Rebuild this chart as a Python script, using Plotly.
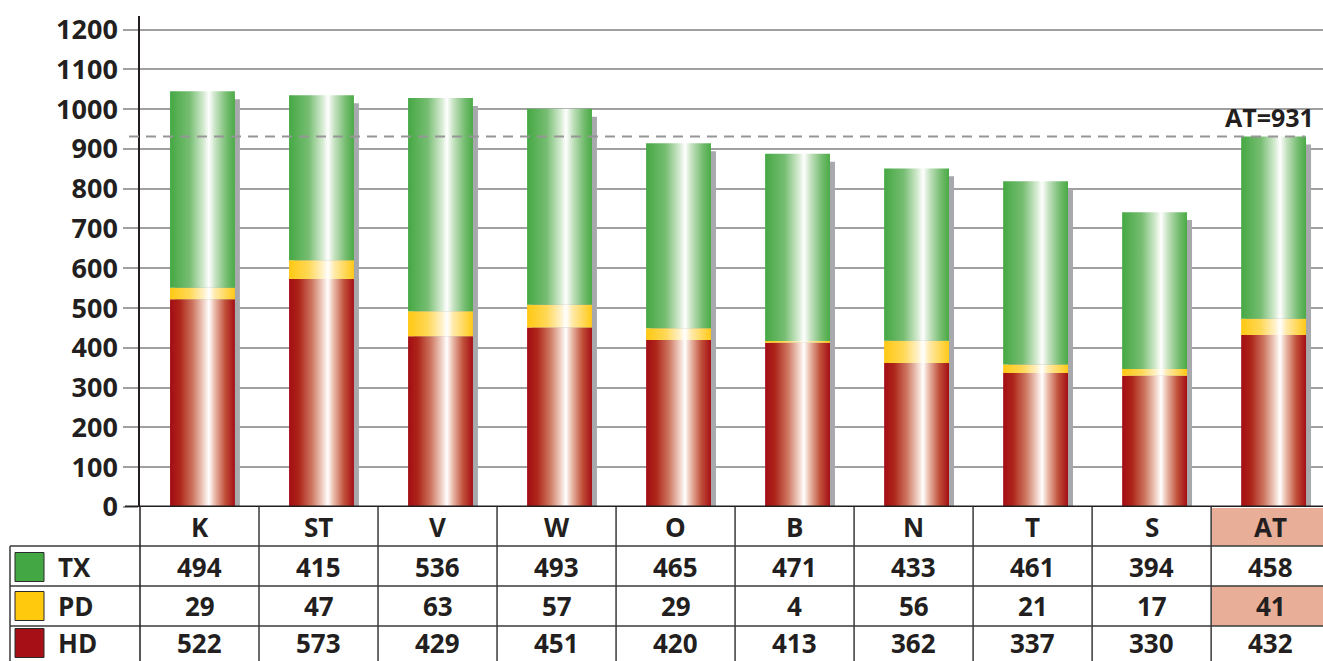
import plotly.graph_objects as go

# === DATOS ===
categories = ['K', 'ST', 'V', 'W', 'O', 'B', 'N', 'T', 'S', 'AT']
hd = [522, 573, 429, 451, 420, 413, 362, 337, 330, 432]
pd_vals = [29, 47, 63, 57, 29, 4, 56, 21, 17, 41]
tx = [494, 415, 536, 493, 465, 471, 433, 461, 394, 458]
at_value = 931
y_ticks = list(range(0, 1300, 100))

# colores
red_scale = [[0, '#a30d14'], [0.15, '#ad2419'], [0.35, '#cd7660'], [0.52, '#f0d2c6'],
             [0.6, '#ffffff'], [0.68, '#ecc0b0'], [0.85, '#c0503a'], [1, '#a50e14']]
yellow_scale = [[0, '#ffc812'], [0.3, '#ffd856'], [0.52, '#fff1c8'],
                [0.6, '#ffffff'], [0.7, '#ffe9a8'], [1, '#ffc915']]
green_scale = [[0, '#45a843'], [0.3, '#76bd72'], [0.52, '#d6ebd2'],
               [0.6, '#ffffff'], [0.7, '#c5e2c1'], [0.88, '#72bb6d'], [1, '#4aab45']]
series = [('HD', hd, red_scale, '#a50f15'),
          ('PD', pd_vals, yellow_scale, '#ffc90e'),
          ('TX', tx, green_scale, '#43a843')]

FONT = 'Open Sans'
TXT = '#231f20'
bar_w = 0.545
shift = 0.025
totals = [h + p + t for h, p, t in zip(hd, pd_vals, tx)]

fig = go.Figure()

# sombras grises
fig.add_trace(go.Bar(
    x=[i + shift + 0.042 for i in range(len(categories))],
    y=[t - 20 for t in totals],
    width=bar_w, marker=dict(color='#a7a9ac', line=dict(width=0)),
    hoverinfo='skip', showlegend=False
))

# barras apiladas con degradado horizontal
for i in range(len(categories)):
    base = 0
    for name, vals, scale, _ in series:
        top = base + vals[i]
        x0, x1 = i + shift - bar_w / 2, i + shift + bar_w / 2
        fig.add_trace(go.Scatter(
            x=[x0, x1, x1, x0, x0], y=[base, base, top, top, base],
            mode='none', fill='toself',
            fillgradient=dict(type='horizontal', colorscale=scale),
            hoverinfo='skip', showlegend=False
        ))
        base = top

shapes = []
annotations = []

# linea AT
shapes.append(dict(type='line', xref='paper', yref='y', x0=-0.0093, x1=0.985,
                   y0=at_value, y1=at_value, line=dict(color='#969696', width=2, dash='10px,7px')))
annotations.append(dict(xref='paper', yref='y', x=0.994, y=at_value, xanchor='right', yanchor='bottom',
                        yshift=1, text=f'AT={at_value}', showarrow=False,
                        font=dict(family=FONT, size=25, color=TXT, weight='bold')))

# linea cero
shapes.append(dict(type='line', xref='paper', yref='y', x0=-0.0127, x1=1, y0=0, y1=0,
                   line=dict(color=TXT, width=3)))

# === TABLA ===
ph = 491.0
def py(pix):
    return (507 - pix) / ph

row_lines = [py(546), py(586), py(626)]
y_bottom = py(661)
x_left = (10 - 140) / 1183

# celdas AT resaltadas
at_i = categories.index('AT')
shapes.append(dict(type='rect', xref='x', yref='paper', x0=at_i - 0.5, x1=at_i + 0.6,
                   y0=row_lines[0], y1=py(508), fillcolor='#e8ae98', line=dict(width=0), layer='below'))
shapes.append(dict(type='rect', xref='x', yref='paper', x0=at_i - 0.5, x1=at_i + 0.6,
                   y0=row_lines[2], y1=row_lines[1], fillcolor='#e8ae98', line=dict(width=0), layer='below'))

for yl in row_lines:
    shapes.append(dict(type='line', xref='paper', yref='paper', x0=x_left, x1=1, y0=yl, y1=yl,
                       line=dict(color='#3a3a3a', width=1.5)))
shapes.append(dict(type='line', xref='paper', yref='paper', x0=x_left, x1=x_left,
                   y0=row_lines[0], y1=y_bottom, line=dict(color='#3a3a3a', width=1.5)))
shapes.append(dict(type='line', xref='paper', yref='paper', x0=0, x1=0,
                   y0=0, y1=y_bottom, line=dict(color=TXT, width=1.5)))
for i in range(1, len(categories)):
    shapes.append(dict(type='line', xref='x', yref='paper', x0=i - 0.5, x1=i - 0.5,
                       y0=0, y1=y_bottom, line=dict(color='#3a3a3a', width=1.5)))

cell_font = dict(family=FONT, size=26, color=TXT, weight='bold')
for i, cat in enumerate(categories):
    annotations.append(dict(xref='x', yref='paper', x=i, y=py(527), text=cat, yanchor='middle',
                            xanchor='center', showarrow=False, font=cell_font))

row_centers = {'TX': py(567), 'PD': py(606), 'HD': py(643)}
for name, vals, scale, color in series:
    yc = row_centers[name]
    for i, v in enumerate(vals):
        annotations.append(dict(xref='x', yref='paper', x=i, y=yc, text=str(v), yanchor='middle',
                                xanchor='center', showarrow=False, font=cell_font))
    shapes.append(dict(type='rect', xref='paper', yref='paper',
                       x0=(15 - 140) / 1183, x1=(44 - 140) / 1183,
                       y0=yc - 14.5 / ph, y1=yc + 14.5 / ph,
                       fillcolor=color, line=dict(color='#2a2a2a', width=1)))
    annotations.append(dict(xref='paper', yref='paper', x=(56 - 140) / 1183, y=yc, xanchor='left',
                            yanchor='middle', text=name, showarrow=False, font=cell_font))

fig.update_layout(
    width=1323, height=661,
    margin=dict(l=140, r=0, t=16, b=154),
    plot_bgcolor='white', paper_bgcolor='white',
    barmode='overlay', showlegend=False,
    xaxis=dict(range=[-0.5, 9.44], showticklabels=False, showgrid=False, zeroline=False,
               showline=False, ticks=''),
    yaxis=dict(range=[0, 1234], tickvals=y_ticks, showgrid=True, gridcolor='#a0a0a0', gridwidth=2,
               zeroline=False, showline=True, linecolor=TXT, linewidth=1.5,
               ticks='outside', ticklen=15, tickwidth=2, tickcolor='#a0a0a0',
               tickfont=dict(family=FONT, size=27, color=TXT, weight='bold')),
    shapes=shapes, annotations=annotations,
)

# quitar el margen del body para que la figura quede en (0,0)
fig.write_html("out.html", config={'displayModeBar': False},
               post_script="document.body.style.margin='0';")
